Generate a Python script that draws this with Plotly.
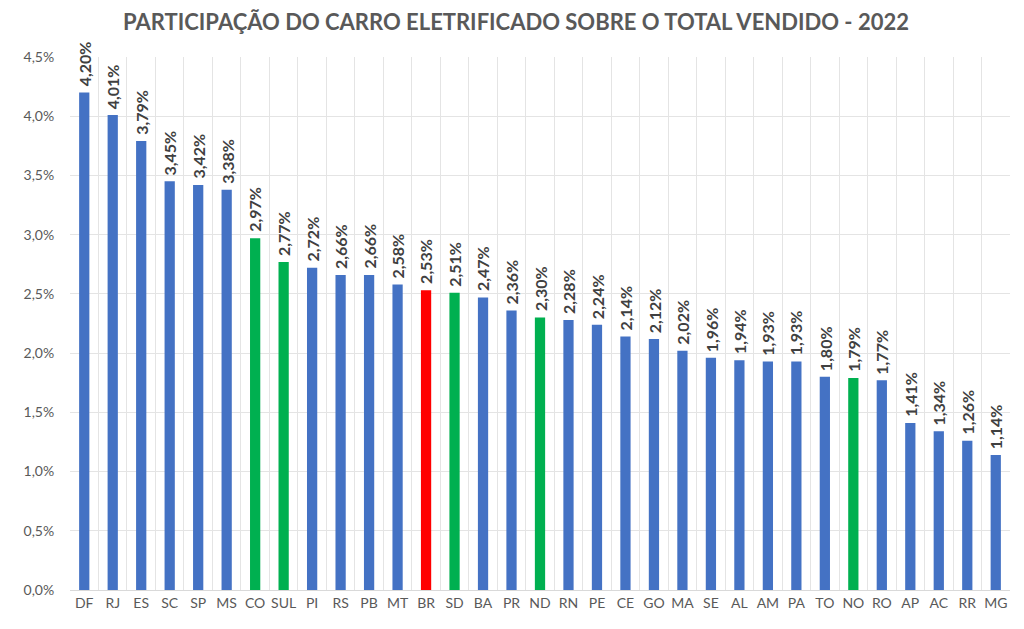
import plotly.graph_objects as go

################################################################################

estados = ["DF", "RJ", "ES", "SC", "SP", "MS", "CO", "SUL", "PI", "RS", "PB",
           "MT", "BR", "SD", "BA", "PR", "ND", "RN", "PE", "CE", "GO", "MA",
           "SE", "AL", "AM", "PA", "TO", "NO", "RO", "AP", "AC", "RR", "MG"]

participacao = [4.20, 4.01, 3.79, 3.45, 3.42, 3.38, 2.97, 2.77, 2.72, 2.66,
                2.66, 2.58, 2.53, 2.51, 2.47, 2.36, 2.30, 2.28, 2.24, 2.14,
                2.12, 2.02, 1.96, 1.94, 1.93, 1.93, 1.80, 1.79, 1.77, 1.41,
                1.34, 1.26, 1.14]

regioes = ["CO", "SUL", "SD", "ND", "NO"]

y_ticks = [0, 0.5, 1.0, 1.5, 2.0, 2.5, 3.0, 3.5, 4.0, 4.5]

################################################################################

cores = []
for e in estados:
    if e == "BR":
        cores.append("#FF0000")
    elif e in regioes:
        cores.append("#00B050")
    else:
        cores.append("#4472C4")

valores = [v / 100 for v in participacao]

fig = go.Figure(go.Bar(
    x = estados,
    y = valores,
    width = 0.36,
    marker_color = cores,
    marker_line_width = 0,
    cliponaxis = False,
))

# rotulos verticais acima das barras
for e, v in zip(estados, participacao):
    rotulo = ("%.2f%%" % v).replace(".", ",")
    fig.add_annotation(
        x = e, y = v / 100,
        text = "<b>" + rotulo + "</b>",
        textangle = -90,
        showarrow = False,
        xanchor = "center", yanchor = "bottom",
        yshift = 4,
        font = dict(size=16, color="#404040", family="Lato"),
    )

# a pagina desloca o grafico 8px (margem do body), por isso 1016x621
fig.update_layout(
    width = 1016, height = 621,
    separators = ",.",
    paper_bgcolor = "white", plot_bgcolor = "white",
    margin = dict(l=62, r=14, t=49, b=39, autoexpand=False),
    font = dict(family="Lato", color="#595959"),
    title = dict(text="<b>PARTICIPAÇÃO DO CARRO ELETRIFICADO SOBRE O TOTAL VENDIDO - 2022</b>",
                 x=0.5, xanchor="center", y=0.99, yanchor="top",
                 font=dict(size=22, color="#595959")),
    showlegend = False,
)

fig.update_xaxes(
    tickson = "boundaries",
    tickangle = 0,
    showgrid = True, gridcolor = "#E4E4E4", gridwidth = 1,
    ticks = "outside", ticklen = 6, tickcolor = "white",
    tickfont = dict(size=14, color="#595959"),
    showline = True, linecolor = "#D9D9D9",
    automargin = False,
)

fig.update_yaxes(
    range = [0, 0.045],
    tickvals = [t / 100 for t in y_ticks],
    tickformat = ".1%",
    showgrid = True, gridcolor = "#E4E4E4", gridwidth = 1,
    zeroline = False,
    tickfont = dict(size=14, color="#595959"),
    ticks = "outside", ticklen = 12, tickcolor = "white",
    automargin = False,
)

fig.write_html("out.html")
